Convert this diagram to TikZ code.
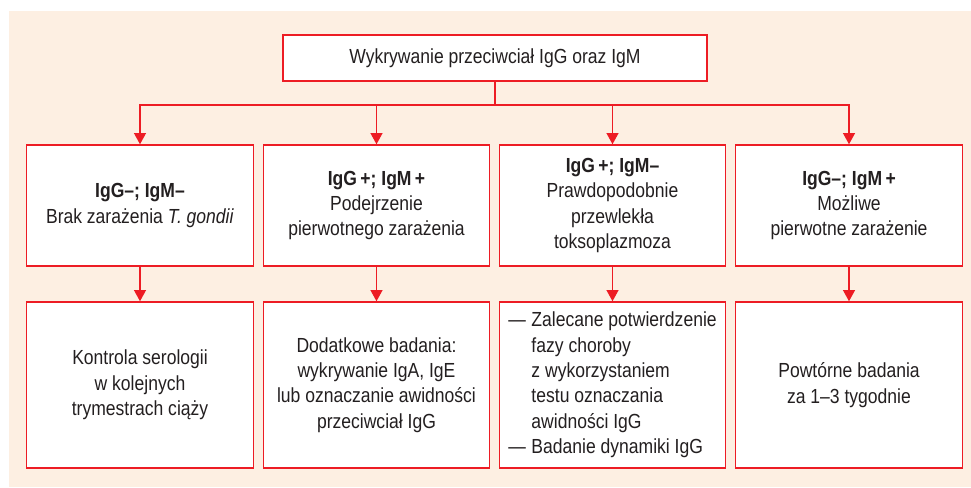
\documentclass[tikz,border=0pt]{standalone}
\usepackage{fontspec}
\setmainfont{Liberation Sans}[FakeStretch=0.86]
\usetikzlibrary{arrows.meta}
\definecolor{boxred}{RGB}{237,28,36}
\definecolor{bgcream}{RGB}{253,239,226}
\definecolor{txtgray}{RGB}{35,31,32}
\tikzset{
  box/.style={draw=boxred, fill=white, line width=1pt, minimum width=5.66cm,
    align=center, text=txtgray, font=\fontsize{14.5}{18}\selectfont, inner sep=0pt},
  conn/.style={boxred, line width=1pt, -{Triangle[width=8.5pt,length=8pt]}}
}

\begin{document}
\begin{tikzpicture}[x=0.025cm,y=-0.025cm]
\useasboundingbox (0,0) rectangle (971,487);
\fill[bgcream] (9,11) rectangle (971,487);

% top
\node[box, minimum width=10.6cm, minimum height=1.15cm] (top) at (495,58) {Wykrywanie przeciwciał IgG oraz IgM};
\coordinate (bus) at (495,105);

% results
\node[box, minimum height=3.025cm] (r1) at (140,205.5) {\textbf{IgG–; IgM–}\\Brak zarażenia \textit{T. gondii}};
\node[box, minimum height=3.025cm] (r2) at (376.5,205.5) {\textbf{IgG\,+; IgM\,+}\\Podejrzenie\\pierwotnego zarażenia};
\node[box, minimum height=3.025cm] (r3) at (612.5,205.5) {\textbf{IgG\,+; IgM–}\\Prawdopodobnie\\przewlekła\\toksoplazmoza};
\node[box, minimum height=3.025cm] (r4) at (849,205.5) {\textbf{IgG–; IgM\,+}\\Możliwe\\pierwotne zarażenie};

% next steps
\node[box, minimum height=4.15cm] (s1) at (140,385) {Kontrola serologii\\w kolejnych\\trymestrach ciąży};
\node[box, minimum height=4.15cm] (s2) at (376.5,385) {Dodatkowe badania:\\wykrywanie IgA, IgE\\lub oznaczanie awidności\\przeciwciał IgG};
\node[box, minimum height=4.15cm] (s3) at (612.5,385) {\begin{tabular}{@{}l@{\hspace{4pt}}l@{}}
—&Zalecane potwierdzenie\\&fazy choroby\\&z wykorzystaniem\\&testu oznaczania\\&awidności IgG\\
—&Badanie dynamiki IgG\end{tabular}};
\node[box, minimum height=4.15cm] (s4) at (849,385) {Powtórne badania\\za 1–3 tygodnie};

\foreach \c in {1,...,4} {
  \draw[conn] (top.south) |- (bus) -| (r\c.north);
  \draw[conn] (r\c.south) -- (s\c.north);
}
\end{tikzpicture}
\end{document}
